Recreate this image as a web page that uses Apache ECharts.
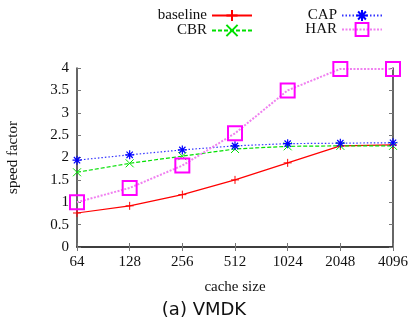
<!DOCTYPE html>
<html>
<head>
<meta charset="utf-8">
<script src="https://cdn.jsdelivr.net/npm/echarts@6/dist/echarts.min.js"></script>
<style>
  html, body { margin: 0; padding: 0; background: #fff; }
  #chart { width: 408px; height: 321px; }
</style>
</head>
<body>
<div id="chart"></div>
<script>
// 数据
const cacheSizes = ["64", "128", "256", "512", "1024", "2048", "4096"];
const baseline = [0.76, 0.92, 1.17, 1.5, 1.88, 2.26, 2.28];
const cbr = [1.67, 1.87, 2.03, 2.19, 2.25, 2.26, 2.26];
const cap = [1.94, 2.06, 2.17, 2.26, 2.31, 2.32, 2.33];
const har = [1.0, 1.32, 1.82, 2.54, 3.5, 3.98, 3.98];
const yTicks = [0, 0.5, 1, 1.5, 2, 2.5, 3, 3.5, 4];

const serif = "Liberation Serif";
const axisColor = "#333";

// 符号
const plusSym = "path://M5,0L5,10M0,5L10,5";
const crossSym = "path://M0,0L10,10M10,0L0,10";
const starSym = "path://M5,0L5,10M0,5L10,5M1.5,1.5L8.5,8.5M8.5,1.5L1.5,8.5";
const boxSym = "path://M0,0L10,0L10,10L0,10Z";

function makeLegend(name, right, top, h) {
  return {
    data: [name],
    right: right,
    top: top,
    align: "right",
    itemWidth: 40,
    itemHeight: h || 14,
    padding: 0,
    selectedMode: false,
    textStyle: { fontFamily: serif, fontSize: 15, color: "#111" },
  };
}

const myChart = echarts.init(document.getElementById("chart"));

const option = {
  animation: false,
  title: {
    text: "(a) VMDK",
    left: "center",
    top: 296,
    textStyle: { fontFamily: "DejaVu Sans", fontSize: 18, fontWeight: "normal", color: "#111" },
  },
  legend: [
    makeLegend("baseline", 155, 8),
    makeLegend("CBR", 155, 23),
    makeLegend("CAP", 25, 8),
    makeLegend("HAR", 25, 22, 16),
  ],
  grid: { left: 77, right: 15, top: 68, bottom: 74, outerBoundsMode: "none", containLabel: false },
  xAxis: [
    {
      type: "category",
      data: cacheSizes,
      boundaryGap: false,
      name: "cache size",
      nameLocation: "middle",
      nameGap: 33,
      nameTextStyle: { fontFamily: serif, fontSize: 15, color: "#111" },
      axisLine: { lineStyle: { color: axisColor, width: 1.5 } },
      axisTick: { inside: true, length: 4, lineStyle: { color: "#777" } },
      axisLabel: { fontFamily: serif, fontSize: 15, color: "#111", margin: 8 },
    },
    {
      type: "category",
      data: cacheSizes,
      boundaryGap: false,
      position: "top",
      axisLine: { lineStyle: { color: axisColor, width: 1.5 } },
      axisTick: { inside: true, length: 4, lineStyle: { color: "#777" } },
      axisLabel: { show: false },
    },
  ],
  yAxis: [
    {
      type: "value",
      min: 0,
      max: 4,
      interval: 0.5,
      name: "speed factor",
      nameLocation: "middle",
      nameGap: 56,
      nameTextStyle: { fontFamily: serif, fontSize: 15, color: "#111" },
      axisLine: { show: true, lineStyle: { color: axisColor, width: 1.5 } },
      axisTick: { show: true, inside: true, length: 4, lineStyle: { color: "#777" } },
      axisLabel: {
        fontFamily: serif,
        fontSize: 15,
        color: "#111",
        margin: 8,
        formatter: (v) => (yTicks.includes(v) ? String(v) : ""),
      },
      splitLine: { show: false },
    },
    {
      type: "value",
      min: 0,
      max: 4,
      interval: 0.5,
      position: "right",
      axisLine: { show: true, lineStyle: { color: axisColor, width: 1.5 } },
      axisTick: { show: true, inside: true, length: 4, lineStyle: { color: "#777" } },
      axisLabel: { show: false },
      splitLine: { show: false },
    },
  ],
  series: [
    {
      name: "baseline",
      type: "line",
      data: baseline,
      symbol: plusSym,
      symbolSize: 8,
      color: "#ff0000",
      itemStyle: { color: "#ff0000", borderColor: "#ff0000", borderWidth: 1 },
      lineStyle: { color: "#ff0000", width: 1.2, type: "solid" },
      z: 3,
    },
    {
      name: "CBR",
      type: "line",
      data: cbr,
      symbol: crossSym,
      symbolSize: 8,
      color: "#00e000",
      itemStyle: { color: "#00e000", borderColor: "#00e000", borderWidth: 1 },
      lineStyle: { color: "#00e000", width: 1.2, type: [4, 2] },
      z: 3,
    },
    {
      name: "CAP",
      type: "line",
      data: cap,
      symbol: starSym,
      symbolSize: 9,
      color: "#0000ff",
      itemStyle: { color: "#0000ff", borderColor: "#0000ff", borderWidth: 1.2 },
      lineStyle: { color: "#3333ff", width: 1.2, type: [1.5, 2] },
      z: 3,
    },
    {
      name: "HAR",
      type: "line",
      data: har,
      symbol: boxSym,
      symbolSize: 14,
      color: "#ff00ff",
      itemStyle: { color: "transparent", borderColor: "#ff00ff", borderWidth: 2 },
      lineStyle: { color: "#f080f0", width: 2, type: [2, 1.5] },
      z: 4,
    },
  ],
};

option && myChart.setOption(option);
</script>
</body>
</html>
